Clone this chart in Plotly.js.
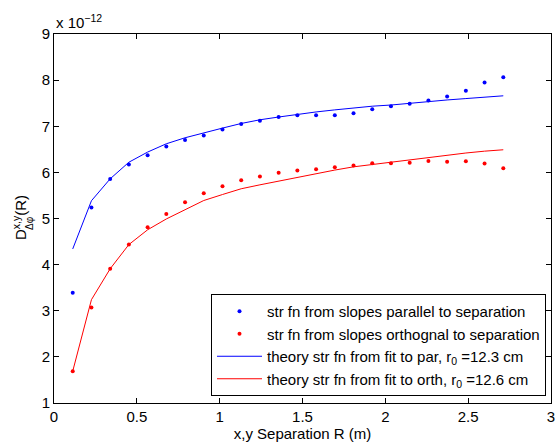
<!DOCTYPE html>
<html>
<head>
<meta charset="utf-8">
<script src="https://cdn.plot.ly/plotly-3.0.1.min.js"></script>
<style>html,body{margin:0;padding:0;background:#fff;}#chart{width:557px;height:445px;}</style>
</head>
<body>
<div id="chart"></div>
<script>
// Separation R (m)
var sepR = [0.113, 0.226, 0.339, 0.452, 0.565, 0.678, 0.791, 0.904, 1.017, 1.130, 1.243, 1.356,
            1.469, 1.582, 1.695, 1.808, 1.921, 2.034, 2.147, 2.260, 2.373, 2.486, 2.599, 2.712];
// Structure function values (x 1e-12)
var parPoints = [3.39, 5.24, 5.855, 6.17, 6.37, 6.56, 6.70, 6.80, 6.93, 7.05, 7.12, 7.20,
                 7.24, 7.24, 7.24, 7.28, 7.37, 7.435, 7.49, 7.56, 7.645, 7.77, 7.95, 8.065];
var orthPoints = [1.69, 3.07, 3.91, 4.435, 4.81, 5.10, 5.355, 5.55, 5.70, 5.83, 5.91, 5.99,
                  6.04, 6.07, 6.11, 6.15, 6.20, 6.20, 6.21, 6.245, 6.23, 6.24, 6.19, 6.09];
var parTheory = [4.34, 5.385, 5.86, 6.22, 6.44, 6.62, 6.75, 6.86, 6.96, 7.06, 7.14, 7.20,
                 7.26, 7.31, 7.355, 7.40, 7.435, 7.46, 7.50, 7.54, 7.57, 7.60, 7.63, 7.66];
var orthTheory = [1.69, 3.24, 3.91, 4.435, 4.755, 4.99, 5.19, 5.39, 5.52, 5.645, 5.73, 5.81,
                  5.90, 5.985, 6.05, 6.12, 6.17, 6.23, 6.28, 6.33, 6.38, 6.42, 6.46, 6.49];
var xTicks = [0, 0.5, 1, 1.5, 2, 2.5, 3];
var yTicks = [1, 2, 3, 4, 5, 6, 7, 8, 9];
var names = ['str fn from slopes parallel to separation',
             'str fn from slopes orthognal to separation',
             'theory str fn from fit to par, r<sub>0</sub> =12.3 cm',
             'theory str fn from fit to orth, r<sub>0</sub> =12.6 cm'];
var yTitleMain = 'D<sup>x,y</sup>(R)';
var yTitleSub = 'Δφ';
var scaleLabel = 'x 10<sup>−12</sup>';
var xTitle = 'x,y Separation R (m)';

var F = 'Liberation Sans, Arial, Helvetica, sans-serif';
var FS = 15;
var traces = [
  {x: sepR, y: parPoints, mode: 'markers', name: names[0], marker: {color: '#0000ff', size: 4}},
  {x: sepR, y: orthPoints, mode: 'markers', name: names[1], marker: {color: '#ff0000', size: 4}},
  {x: sepR, y: parTheory, mode: 'lines', name: names[2], line: {color: '#0000ff', width: 1}},
  {x: sepR, y: orthTheory, mode: 'lines', name: names[3], line: {color: '#ff0000', width: 1}}
];
var axisCommon = {
  showgrid: false, zeroline: false, showline: true, linecolor: '#000', linewidth: 1,
  mirror: 'ticks', ticks: 'inside', ticklen: 5, tickcolor: '#000',
  tickfont: {family: F, size: FS, color: '#000'}
};
// plot area: l=54, t=34, w=497, h=369
var L = 54, T = 34, W = 497, H = 369;
function px2x(p) { return (p - L) / W; }
function py2y(p) { return (T + H - p) / H; }
var layout = {
  width: 557, height: 445,
  margin: {l: L, r: 557 - L - W, t: T, b: 445 - T - H},
  paper_bgcolor: '#fff', plot_bgcolor: '#fff',
  font: {family: F, size: FS, color: '#000'},
  xaxis: Object.assign({}, axisCommon, {
    range: [0, 3], tickvals: xTicks, ticktext: xTicks.map(String),
    title: {text: xTitle, font: {family: F, size: FS}, standoff: 2}
  }),
  yaxis: Object.assign({}, axisCommon, {
    range: [1, 9], tickvals: yTicks, ticktext: yTicks.map(String)
  }),
  showlegend: true,
  legend: {
    x: px2x(546), y: py2y(396), xanchor: 'right', yanchor: 'bottom',
    bgcolor: '#fff', bordercolor: '#000', borderwidth: 1,
    font: {family: F, size: FS, color: '#000'}, itemwidth: 45, tracegroupgap: 0
  },
  annotations: [
    {xref: 'paper', yref: 'paper', x: 0, y: 1, xanchor: 'left', yanchor: 'bottom',
     yshift: 1, showarrow: false, text: scaleLabel, font: {family: F, size: FS}},
    {xref: 'paper', yref: 'paper', x: px2x(19), y: py2y(218), xanchor: 'center', yanchor: 'middle',
     textangle: -90, showarrow: false, text: yTitleMain, font: {family: F, size: FS}},
    {xref: 'paper', yref: 'paper', x: px2x(29), y: py2y(223), xanchor: 'center', yanchor: 'middle',
     textangle: -90, showarrow: false, text: yTitleSub, font: {family: F, size: 10}}
  ]
};
Plotly.newPlot('chart', traces, layout, {displayModeBar: false, staticPlot: true});
</script>
</body>
</html>
